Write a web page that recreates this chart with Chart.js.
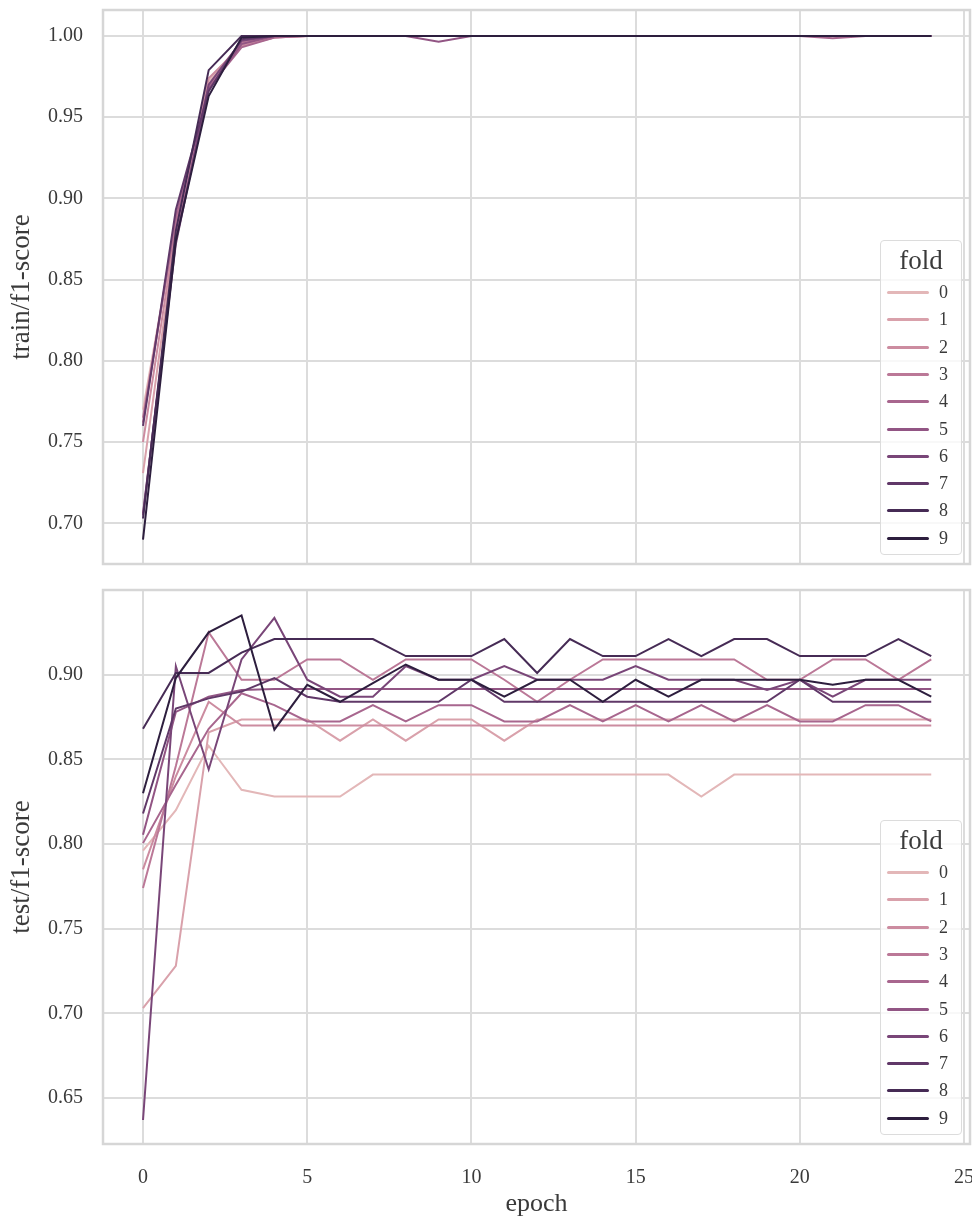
<!DOCTYPE html>
<html>
<head>
<meta charset="utf-8">
<script src="https://cdn.jsdelivr.net/npm/chart.js@4.4.1/dist/chart.umd.min.js"></script>
<style>
    body { margin: 0; background: #fff; }
    #wrap { position: relative; width: 972px; height: 1220px; overflow: hidden; }
    canvas { position: absolute; left: 0; }
    .legend {
        position: absolute; left: 880px; width: 80px; height: 313px;
        border: 1.5px solid #dcdcdc; border-radius: 4px; background: rgba(255,255,255,0.8);
        font-family: "Liberation Serif", serif; color: #3a3a3a;
    }
    .legend .ttl { position: absolute; left: 0; width: 80px; top: 4px; text-align: center; font-size: 27px; }
    .legend .row { position: absolute; left: 0; width: 80px; height: 20px; }
    .legend .sw { position: absolute; left: 6px; top: 9px; width: 42px; height: 3px; border-radius: 2px; }
    .legend .lb { position: absolute; left: 58px; top: 0; font-size: 18px; line-height: 20px; }
</style>
</head>
<body>
<div id="wrap">
    <canvas id="trainChart" width="972" height="580" style="top:0"></canvas>
    <canvas id="testChart" width="972" height="640" style="top:580px"></canvas>
</div>
<script>
// epochs and folds
const epochs = [0, 1, 2, 3, 4, 5, 6, 7, 8, 9, 10, 11, 12, 13, 14, 15, 16, 17, 18, 19, 20, 21, 22, 23, 24];
const folds = ['0', '1', '2', '3', '4', '5', '6', '7', '8', '9'];
const xTicks = [0, 5, 10, 15, 20, 25];
const trainTicks = [0.70, 0.75, 0.80, 0.85, 0.90, 0.95, 1.00];
const testTicks = [0.65, 0.70, 0.75, 0.80, 0.85, 0.90];

// train/f1-score per fold
const train0 = [0.770, 0.884, 0.972, 0.996, 1.000, 1.000, 1.000, 1.000, 1.000, 1.000, 1.000, 1.000, 1.000, 1.000, 1.000, 1.000, 1.000, 1.000, 1.000, 1.000, 1.000, 1.000, 1.000, 1.000, 1.000];
const train1 = [0.731, 0.878, 0.970, 0.995, 0.999, 1.000, 1.000, 1.000, 1.000, 1.000, 1.000, 1.000, 1.000, 1.000, 1.000, 1.000, 1.000, 1.000, 1.000, 1.000, 1.000, 1.000, 1.000, 1.000, 1.000];
const train2 = [0.750, 0.881, 0.974, 0.994, 0.999, 1.000, 1.000, 1.000, 1.000, 1.000, 1.000, 1.000, 1.000, 1.000, 1.000, 1.000, 1.000, 1.000, 1.000, 1.000, 1.000, 1.000, 1.000, 1.000, 1.000];
const train3 = [0.765, 0.886, 0.969, 0.996, 1.000, 1.000, 1.000, 1.000, 1.000, 1.000, 1.000, 1.000, 1.000, 1.000, 1.000, 1.000, 1.000, 1.000, 1.000, 1.000, 1.000, 1.000, 1.000, 1.000, 1.000];
const train4 = [0.762, 0.889, 0.968, 0.993, 0.999, 1.000, 1.000, 1.000, 1.000, 1.000, 1.000, 1.000, 1.000, 1.000, 1.000, 1.000, 1.000, 1.000, 1.000, 1.000, 1.000, 0.9986, 1.000, 1.000, 1.000];
const train5 = [0.705, 0.875, 0.967, 0.995, 1.000, 1.000, 1.000, 1.000, 1.000, 0.9965, 1.000, 1.000, 1.000, 1.000, 1.000, 1.000, 1.000, 1.000, 1.000, 1.000, 1.000, 1.000, 1.000, 1.000, 1.000];
const train6 = [0.706, 0.872, 0.970, 0.997, 1.000, 1.000, 1.000, 1.000, 1.000, 1.000, 1.000, 1.000, 1.000, 1.000, 1.000, 1.000, 1.000, 1.000, 1.000, 1.000, 1.000, 1.000, 1.000, 1.000, 1.000];
const train7 = [0.760, 0.893, 0.966, 0.998, 1.000, 1.000, 1.000, 1.000, 1.000, 1.000, 1.000, 1.000, 1.000, 1.000, 1.000, 1.000, 1.000, 1.000, 1.000, 1.000, 1.000, 1.000, 1.000, 1.000, 1.000];
const train8 = [0.703, 0.880, 0.979, 1.000, 1.000, 1.000, 1.000, 1.000, 1.000, 1.000, 1.000, 1.000, 1.000, 1.000, 1.000, 1.000, 1.000, 1.000, 1.000, 1.000, 1.000, 1.000, 1.000, 1.000, 1.000];
const train9 = [0.690, 0.874, 0.963, 0.999, 1.000, 1.000, 1.000, 1.000, 1.000, 1.000, 1.000, 1.000, 1.000, 1.000, 1.000, 1.000, 1.000, 1.000, 1.000, 1.000, 1.000, 1.000, 1.000, 1.000, 1.000];

// test/f1-score per fold
const test0 = [0.796, 0.820, 0.858, 0.832, 0.828, 0.828, 0.828, 0.841, 0.841, 0.841, 0.841, 0.841, 0.841, 0.841, 0.841, 0.841, 0.841, 0.828, 0.841, 0.841, 0.841, 0.841, 0.841, 0.841, 0.841];
const test1 = [0.703, 0.728, 0.866, 0.8735, 0.8735, 0.8735, 0.861, 0.8735, 0.861, 0.8735, 0.8735, 0.861, 0.8735, 0.8735, 0.8735, 0.8735, 0.8735, 0.8735, 0.8735, 0.8735, 0.8735, 0.8735, 0.8735, 0.8735, 0.8735];
const test2 = [0.785, 0.840, 0.884, 0.870, 0.870, 0.870, 0.870, 0.870, 0.870, 0.870, 0.870, 0.870, 0.870, 0.870, 0.870, 0.870, 0.870, 0.870, 0.870, 0.870, 0.870, 0.870, 0.870, 0.870, 0.870];
const test3 = [0.774, 0.846, 0.925, 0.897, 0.897, 0.909, 0.909, 0.897, 0.909, 0.909, 0.909, 0.897, 0.884, 0.897, 0.909, 0.909, 0.909, 0.909, 0.909, 0.897, 0.897, 0.909, 0.909, 0.897, 0.909];
const test4 = [0.8005, 0.835, 0.868, 0.889, 0.882, 0.8724, 0.8724, 0.882, 0.8724, 0.882, 0.882, 0.8724, 0.8724, 0.882, 0.8724, 0.882, 0.8724, 0.882, 0.8724, 0.882, 0.8724, 0.8724, 0.882, 0.882, 0.8724];
const test5 = [0.8055, 0.878, 0.887, 0.891, 0.8915, 0.8915, 0.8915, 0.8915, 0.8915, 0.8915, 0.8915, 0.8915, 0.8915, 0.8915, 0.8915, 0.8915, 0.8915, 0.8915, 0.8915, 0.8915, 0.8915, 0.8915, 0.8915, 0.8915, 0.8915];
const test6 = [0.637, 0.905, 0.844, 0.909, 0.9335, 0.897, 0.887, 0.887, 0.905, 0.897, 0.897, 0.905, 0.897, 0.897, 0.897, 0.905, 0.897, 0.897, 0.897, 0.891, 0.897, 0.887, 0.897, 0.897, 0.897];
const test7 = [0.818, 0.880, 0.886, 0.890, 0.898, 0.887, 0.884, 0.884, 0.884, 0.884, 0.897, 0.884, 0.884, 0.884, 0.884, 0.884, 0.884, 0.884, 0.884, 0.884, 0.897, 0.884, 0.884, 0.884, 0.884];
const test8 = [0.868, 0.901, 0.901, 0.913, 0.921, 0.921, 0.921, 0.921, 0.911, 0.911, 0.911, 0.921, 0.901, 0.921, 0.911, 0.911, 0.921, 0.911, 0.921, 0.921, 0.911, 0.911, 0.911, 0.921, 0.911];
const test9 = [0.830, 0.898, 0.925, 0.935, 0.8675, 0.894, 0.884, 0.895, 0.906, 0.897, 0.897, 0.887, 0.897, 0.897, 0.884, 0.897, 0.887, 0.897, 0.897, 0.897, 0.897, 0.894, 0.897, 0.897, 0.887];

const trainSeries = [train0, train1, train2, train3, train4, train5, train6, train7, train8, train9];
const testSeries = [test0, test1, test2, test3, test4, test5, test6, test7, test8, test9];

const FONT = "'Liberation Serif', serif";
const TEXT = '#3a3a3a';
const GRID = '#dcdcdc';

// cubehelix ramp (seaborn style), light -> dark
function cubehelix(x) {
    const a = 0.8 * x * (1 - x) / 2;
    const phi = 2 * Math.PI * (0.4 * x);
    const c = Math.cos(phi), s = Math.sin(phi);
    const r = x + a * (-0.14861 * c + 1.78277 * s);
    const g = x + a * (-0.29227 * c - 0.90649 * s);
    const b = x + a * (1.97294 * c);
    const to = v => Math.round(Math.min(1, Math.max(0, v)) * 255);
    return `rgb(${to(r)}, ${to(g)}, ${to(b)})`;
}
const foldColors = folds.map((f, i) => cubehelix(0.77 - 0.62 * i / (folds.length - 1)));

// Draws the full box round the plot area
const framePlugin = {
    id: 'frame',
    beforeDatasetsDraw(chart) {
        const { ctx, chartArea: a } = chart;
        ctx.save();
        ctx.strokeStyle = '#d6d6d6';
        ctx.lineWidth = 2.5;
        ctx.strokeRect(a.left, a.top, a.right - a.left, a.bottom - a.top);
        ctx.restore();
    }
};

// no automatic room for the outer tick labels
function noPadding(s) {
    s.paddingTop = 0;
    s.paddingBottom = 0;
    s.paddingLeft = 0;
    s.paddingRight = 0;
}

function makeChart(canvasId, series, yMin, yMax, yTicks, yTitle, showX) {
    const datasets = series.map((vals, i) => ({
        label: folds[i],
        data: epochs.map((e, j) => ({ x: e, y: vals[j] })),
        borderColor: foldColors[i],
        backgroundColor: foldColors[i],
        borderWidth: 2,
        pointRadius: 0,
        tension: 0,
        order: series.length - 1 - i // last fold on top
    }));

    return new Chart(document.getElementById(canvasId), {
        type: 'line',
        data: { datasets: datasets },
        options: {
            responsive: false,
            animation: false,
            devicePixelRatio: 1,
            layout: { padding: { top: 10, right: 2, bottom: showX ? 0 : 16, left: 0 } },
            plugins: { legend: { display: false }, tooltip: { enabled: false } },
            scales: {
                x: {
                    type: 'linear',
                    min: -1.218,
                    max: 25.18,
                    afterBuildTicks: s => { s.ticks = xTicks.map(v => ({ value: v })); },
                    afterFit: s => { s.height = showX ? 76 : 0; noPadding(s); },
                    grid: { color: GRID, lineWidth: 2, drawTicks: false },
                    border: { display: false },
                    ticks: {
                        display: showX,
                        padding: 22,
                        color: TEXT,
                        font: { family: FONT, size: 20 },
                        maxRotation: 0
                    },
                    title: {
                        display: showX,
                        text: 'epoch',
                        color: TEXT,
                        font: { family: FONT, size: 26 },
                        padding: { top: 0, bottom: 0 }
                    }
                },
                y: {
                    min: yMin,
                    max: yMax,
                    afterBuildTicks: s => { s.ticks = yTicks.map(v => ({ value: v })); },
                    afterFit: s => { s.width = 103; noPadding(s); },
                    grid: { color: GRID, lineWidth: 2, drawTicks: false },
                    border: { display: false },
                    ticks: {
                        padding: 20,
                        color: TEXT,
                        font: { family: FONT, size: 20 },
                        callback: v => v.toFixed(2)
                    },
                    title: {
                        display: true,
                        text: yTitle,
                        color: TEXT,
                        font: { family: FONT, size: 27 },
                        padding: { top: 6, bottom: 0 }
                    }
                }
            }
        },
        plugins: [framePlugin]
    });
}

// HTML legend placed inside the plot area, bottom right
function buildLegend(chart, top) {
    const box = document.createElement('div');
    box.className = 'legend';
    box.style.top = top + 'px';
    const ttl = document.createElement('div');
    ttl.className = 'ttl';
    ttl.textContent = 'fold';
    box.appendChild(ttl);
    chart.data.datasets.forEach((ds, i) => {
        const row = document.createElement('div');
        row.className = 'row';
        row.style.top = (41 + i * 27.3) + 'px';
        row.innerHTML = `<span class="sw" style="background:${ds.borderColor}"></span><span class="lb">${ds.label}</span>`;
        box.appendChild(row);
    });
    document.getElementById('wrap').appendChild(box);
}

const trainChart = makeChart('trainChart', trainSeries, 0.675, 1.016, trainTicks, 'train/f1-score', false);
const testChart = makeChart('testChart', testSeries, 0.6228, 0.950, testTicks, 'test/f1-score', true);
buildLegend(trainChart, 240);
buildLegend(testChart, 820);
</script>
</body>
</html>
